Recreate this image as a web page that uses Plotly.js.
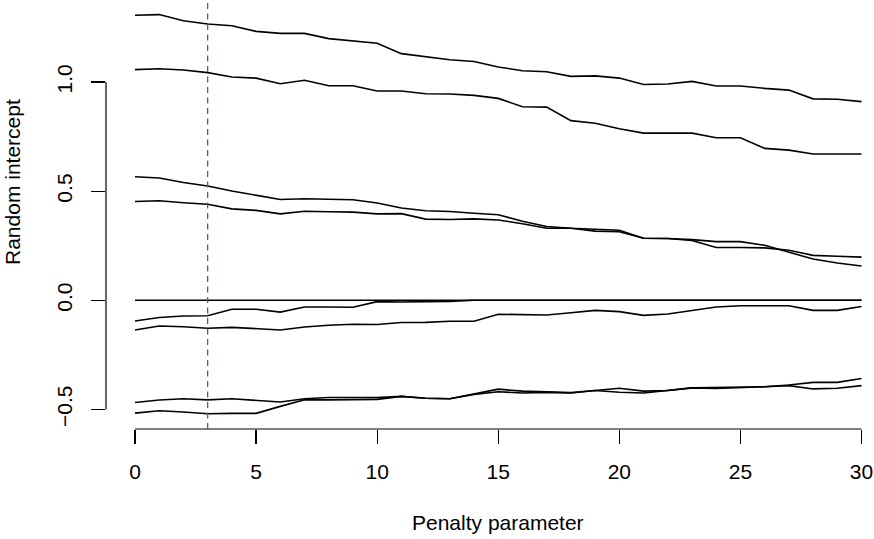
<!DOCTYPE html>
<html>
<head>
<meta charset="utf-8">
<script src="https://cdn.plot.ly/plotly-3.0.1.min.js"></script>
<style>html,body{margin:0;padding:0;background:#fff;}#chart{width:874px;height:539px;}</style>
</head>
<body>
<div id="chart"></div>
<script>
// Penalty parameter values (x)
const penalty = [0,1,2,3,4,5,6,7,8,9,10,11,12,13,14,15,16,17,18,19,20,21,22,23,24,25,26,27,28,29,30];

// Random-intercept coefficient paths
const pathA = [1.306,1.309,1.281,1.266,1.258,1.232,1.223,1.223,1.199,1.190,1.178,1.130,1.117,1.102,1.094,1.069,1.052,1.047,1.026,1.028,1.018,0.989,0.991,1.003,0.982,0.982,0.971,0.963,0.923,0.921,0.910];
const pathB = [1.057,1.061,1.055,1.043,1.023,1.018,0.992,1.008,0.983,0.983,0.959,0.959,0.946,0.945,0.939,0.925,0.887,0.885,0.823,0.811,0.786,0.766,0.766,0.766,0.745,0.745,0.696,0.688,0.670,0.670,0.670];
const pathC = [0.566,0.560,0.540,0.524,0.501,0.482,0.462,0.465,0.464,0.461,0.446,0.423,0.410,0.407,0.399,0.392,0.362,0.338,0.330,0.326,0.321,0.284,0.283,0.274,0.242,0.242,0.240,0.229,0.206,0.202,0.198];
const pathD = [0.453,0.456,0.447,0.440,0.419,0.412,0.396,0.408,0.406,0.404,0.396,0.397,0.372,0.370,0.373,0.368,0.351,0.330,0.330,0.317,0.314,0.284,0.283,0.278,0.269,0.269,0.252,0.221,0.189,0.171,0.157];
const pathZero = [0,0,0,0,0,0,0,0,0,0,0,0,0,0,0,0,0,0,0,0,0,0,0,0,0,0,0,0,0,0,0];
const pathE = [-0.095,-0.079,-0.072,-0.071,-0.041,-0.041,-0.054,-0.031,-0.031,-0.032,-0.006,-0.008,-0.006,-0.005,0,0,0,0,0,0,0,0,0,0,0,0,0,0,0,0,0];
const pathF = [-0.136,-0.118,-0.121,-0.128,-0.124,-0.130,-0.136,-0.122,-0.114,-0.110,-0.111,-0.102,-0.101,-0.096,-0.096,-0.064,-0.067,-0.067,-0.057,-0.046,-0.052,-0.069,-0.063,-0.046,-0.031,-0.025,-0.026,-0.025,-0.046,-0.046,-0.028];
const pathG = [-0.468,-0.457,-0.451,-0.456,-0.451,-0.457,-0.466,-0.451,-0.445,-0.445,-0.446,-0.440,-0.449,-0.451,-0.428,-0.407,-0.416,-0.420,-0.423,-0.413,-0.403,-0.416,-0.413,-0.401,-0.399,-0.398,-0.396,-0.388,-0.376,-0.376,-0.358];
const pathH = [-0.517,-0.506,-0.512,-0.520,-0.518,-0.518,-0.486,-0.456,-0.456,-0.454,-0.454,-0.440,-0.449,-0.451,-0.431,-0.419,-0.425,-0.422,-0.425,-0.413,-0.421,-0.425,-0.413,-0.401,-0.404,-0.401,-0.396,-0.391,-0.406,-0.403,-0.391];

const paths = [pathA, pathB, pathC, pathD, pathZero, pathE, pathF, pathG, pathH];

// Selected penalty (dashed reference line) and tick labels
const selectedPenalty = 3;
const xTicks = [0,5,10,15,20,25,30];
const yTicks = [-0.5,0.0,0.5,1.0];
const yTickText = ["\u22120.5","0.0","0.5","1.0"];
const xTitle = "Penalty parameter";
const yTitle = "Random intercept";

const FONT = "Liberation Sans, Arial, Helvetica, sans-serif";

const traces = paths.map(p => ({
  x: penalty, y: p, type: "scatter", mode: "lines",
  line: {color: "#000000", width: 1.6},
  hoverinfo: "skip", showlegend: false
}));

const layout = {
  width: 874, height: 539,
  margin: {l: 106, r: 0, t: 0, b: 110, pad: 0},
  paper_bgcolor: "#ffffff", plot_bgcolor: "#ffffff",
  font: {family: FONT, size: 21, color: "#000000"},
  showlegend: false,
  xaxis: {
    range: [-1.197, 30.516], tickvals: xTicks, ticktext: xTicks.map(String),
    ticks: "outside", ticklen: 14, tickwidth: 1.2, tickcolor: "#000",
    showline: false, showgrid: false, zeroline: false,
    ticklabelstandoff: 10,
    tickfont: {family: FONT, size: 21, color: "#000"}
  },
  yaxis: {
    range: [-0.5896, 1.3758], tickvals: yTicks, ticktext: yTickText,
    ticks: "outside", ticklen: 14, tickwidth: 1.2, tickcolor: "#000",
    showline: false, showgrid: false, zeroline: false,
    tickangle: -90, ticklabelstandoff: 11,
    tickfont: {family: FONT, size: 21, color: "#000"}
  },
  shapes: [
    {type: "line", xref: "x", yref: "paper", x0: xTicks[0], x1: xTicks[xTicks.length-1], y0: 0, y1: 0,
     line: {color: "#000", width: 1.2}},
    {type: "line", xref: "paper", yref: "y", x0: 0, x1: 0, y0: yTicks[0], y1: yTicks[yTicks.length-1],
     line: {color: "#000", width: 1.2}},
    {type: "line", xref: "x", yref: "paper", x0: selectedPenalty, x1: selectedPenalty, y0: 0, y1: 1,
     line: {color: "#2f68a8", width: 1.3, dash: "6px,4.5px"}}
  ],
  annotations: [
    {text: xTitle, xref: "x", x: 15, yref: "paper", y: -0.2191, xanchor: "center", yanchor: "middle",
     showarrow: false, font: {family: FONT, size: 21, color: "#000"}},
    {text: yTitle, xref: "paper", x: -0.1211, yref: "paper", y: 0.5758, xanchor: "center", yanchor: "middle",
     textangle: -90, showarrow: false, font: {family: FONT, size: 21, color: "#000"}}
  ]
};

Plotly.newPlot("chart", traces, layout, {staticPlot: true, displayModeBar: false});
</script>
</body>
</html>
